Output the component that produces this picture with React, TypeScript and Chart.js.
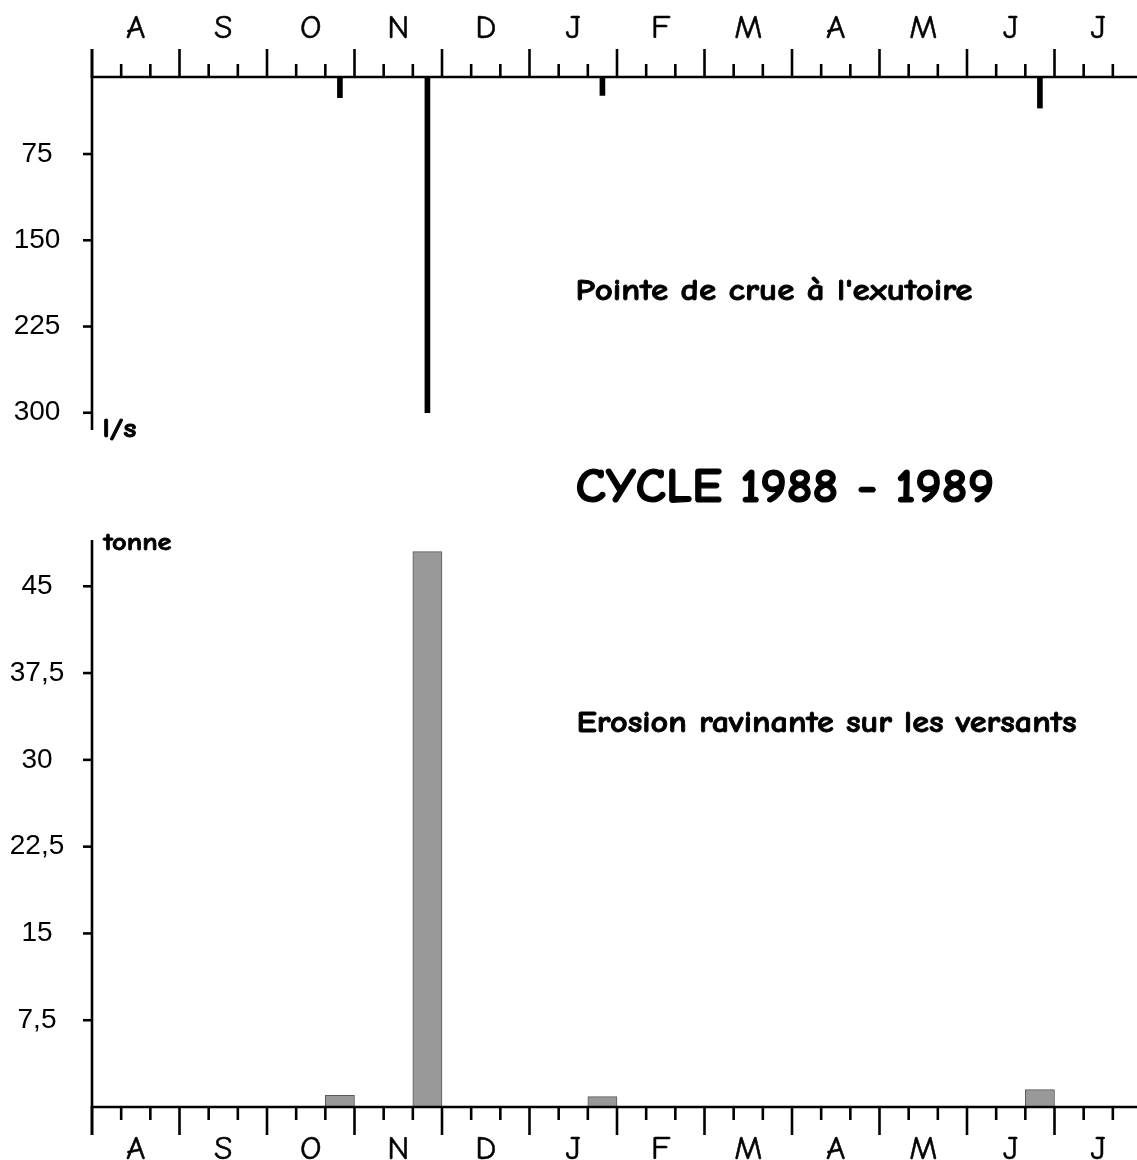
import React, { useEffect, useRef } from "react";
import { Chart, registerables } from "chart.js";

Chart.register(...registerables);

// ---------- data ----------
const monthLetters = ["A", "S", "O", "N", "D", "J", "F", "M", "A", "M", "J", "J"];
const monthNames = ["août", "sept", "oct", "nov", "déc", "janv", "févr", "mars", "avr", "mai", "juin", "juil"];
const decadeLabels = monthNames.flatMap((m) => [`${m} 1`, `${m} 2`, `${m} 3`]);

// Pointe de crue à l'exutoire (l/s), one value per decade (10-day period)
const peakFlow: (number | null)[] = [
  null, null, null, // A
  null, null, null, // S
  null, null, 26, // O
  null, null, 300, // N
  null, null, null, // D
  null, null, 24, // J
  null, null, null, // F
  null, null, null, // M
  null, null, null, // A
  null, null, null, // M
  null, null, 35, // J
  null, null, null, // J
];

// Erosion ravinante sur les versants (tonne), one value per decade
const erosion: (number | null)[] = [
  null, null, null, // A
  null, null, null, // S
  null, null, 1.0, // O
  null, null, 48, // N
  null, null, null, // D
  null, null, 0.9, // J
  null, null, null, // F
  null, null, null, // M
  null, null, null, // A
  null, null, null, // M
  null, null, 1.5, // J
  null, null, null, // J
];

const flowTicks = [75, 150, 225, 300];
const flowTickLabels = ["75", "150", "225", "300"];
const erosionTicks = [7.5, 15, 22.5, 30, 37.5, 45];
const erosionTickLabels = ["7,5", "15", "22,5", "30", "37,5", "45"];

const titleText = "CYCLE 1988 - 1989";
const flowTitle = "Pointe de crue à l'exutoire";
const erosionTitle = "Erosion ravinante sur les versants";
const flowUnit = "l/s";
const erosionUnit = "tonne";

// ---------- styling ----------
const COMIC = '"Comic Sans MS", "Comic Neue", "Open Sans", sans-serif';
const ARIAL = '"Liberation Sans", Arial, sans-serif';
const FLOW_MIN = 8;
const FLOW_MAX = 315;

type TextItem = { text: string; x: number; y: number; size: number; width: number; weight: number };
type PanelCfg = {
  side: "top" | "bottom";
  yTicks: number[];
  yTickLabels: string[];
  labelBaseline: number;
  texts: TextItem[];
};

function axesPlugin(cfg: PanelCfg) {
  return {
    id: "decadeAxes",
    afterDatasetsDraw(chart: any) {
      const { ctx, chartArea: ca } = chart;
      const xs = chart.scales.x;
      const ys = chart.scales.y;
      const n = decadeLabels.length;
      ctx.save();
      ctx.strokeStyle = "#000";
      ctx.fillStyle = "#000";
      ctx.lineWidth = 2.6;
      ctx.lineCap = "butt";
      const seg = (x1: number, y1: number, x2: number, y2: number) => {
        ctx.beginPath();
        ctx.moveTo(x1, y1);
        ctx.lineTo(x2, y2);
        ctx.stroke();
      };
      const top = cfg.side === "top";
      const axisY = top ? ca.top : ca.bottom;
      const dir = top ? -1 : 1;
      const majorLen = 28;
      const minorLen = 13;
      // month axis line
      seg(ca.left - 1.3, axisY, chart.width, axisY);
      // decade / month ticks
      for (let i = 0; i <= n; i++) {
        const px = xs.getPixelForValue(i - 0.5);
        const len = i % 3 === 0 ? majorLen : minorLen;
        seg(px, axisY, px, axisY + dir * len);
      }
      // month letters
      ctx.font = `32px ${COMIC}`;
      ctx.textAlign = "center";
      ctx.textBaseline = "alphabetic";
      ctx.lineWidth = 0.5;
      monthLetters.forEach((m, k) => {
        const px = xs.getPixelForValue(k * 3 + 1);
        ctx.save();
        ctx.translate(px, cfg.labelBaseline);
        ctx.scale(1.05, 1);
        ctx.fillText(m, 0, 0);
        ctx.strokeText(m, 0, 0);
        ctx.restore();
      });
      ctx.lineWidth = 2.6;
      // value axis
      const yTop = top ? axisY - majorLen : ca.top;
      const yBot = top ? ca.bottom : axisY + majorLen;
      seg(ca.left, yTop, ca.left, yBot);
      ctx.font = `28px ${ARIAL}`;
      ctx.textBaseline = "middle";
      cfg.yTicks.forEach((v, k) => {
        const py = ys.getPixelForValue(v);
        seg(ca.left - 9, py, ca.left, py);
        ctx.fillText(cfg.yTickLabels[k], ca.left - 55, py);
      });
      // annotations (bold, stretched to the reference width)
      ctx.textAlign = "left";
      ctx.textBaseline = "alphabetic";
      cfg.texts.forEach((t) => {
        ctx.font = `bold ${t.size}px ${COMIC}`;
        const w = ctx.measureText(t.text).width + t.weight;
        const sx = t.width / w;
        ctx.save();
        ctx.translate(t.x + t.weight / 2, t.y);
        ctx.scale(sx, 1);
        ctx.lineWidth = t.weight;
        ctx.lineJoin = "round";
        ctx.fillText(t.text, 0, 0);
        ctx.strokeText(t.text, 0, 0);
        ctx.restore();
      });
      ctx.restore();
    },
  };
}

function useChart(ref: React.RefObject<HTMLCanvasElement | null>, make: (c: HTMLCanvasElement) => Chart) {
  useEffect(() => {
    if (!ref.current) return;
    const chart = make(ref.current);
    return () => chart.destroy();
  }, []);
}

export default function App() {
  const topRef = useRef<HTMLCanvasElement | null>(null);
  const botRef = useRef<HTMLCanvasElement | null>(null);

  useChart(topRef, (c) =>
    new Chart(c, {
      type: "bar",
      data: {
        labels: decadeLabels,
        datasets: [
          {
            data: peakFlow as any,
            backgroundColor: "#000",
            borderWidth: 0,
            barThickness: 5,
            base: FLOW_MIN,
          } as any,
        ],
      },
      options: {
        animation: false,
        responsive: false,
        layout: { padding: { left: 92, right: 8, top: 77, bottom: 40 } },
        plugins: { legend: { display: false }, tooltip: { enabled: false } },
        scales: {
          x: { type: "category", display: false, offset: true },
          y: { display: false, reverse: true, min: FLOW_MIN, max: FLOW_MAX },
        },
      },
      plugins: [
        axesPlugin({
          side: "top",
          yTicks: flowTicks,
          yTickLabels: flowTickLabels,
          labelBaseline: 38,
          texts: [
            { text: flowUnit, x: 102, y: 437, size: 26, width: 35, weight: 0.8 },
            { text: flowTitle, x: 575, y: 300, size: 30, width: 398, weight: 0.8 },
          ],
        }),
      ],
    })
  );

  useChart(botRef, (c) =>
    new Chart(c, {
      type: "bar",
      data: {
        labels: decadeLabels,
        datasets: [
          {
            data: erosion as any,
            backgroundColor: "#999999",
            borderColor: "#5a5a5a",
            borderWidth: 1,
            barPercentage: 1,
            categoryPercentage: 1,
          },
        ],
      },
      options: {
        animation: false,
        responsive: false,
        layout: { padding: { left: 92, right: 8, top: 100, bottom: 53 } },
        plugins: { legend: { display: false }, tooltip: { enabled: false } },
        scales: {
          x: { type: "category", display: false, offset: true },
          y: { display: false, min: 0, max: 49 },
        },
      },
      plugins: [
        axesPlugin({
          side: "bottom",
          yTicks: erosionTicks,
          yTickLabels: erosionTickLabels,
          labelBaseline: 1159 - 440,
          texts: [
            { text: titleText, x: 575, y: 502 - 440, size: 49, width: 420, weight: 1.2 },
            { text: erosionUnit, x: 103, y: 550 - 440, size: 25, width: 69, weight: 0.8 },
            { text: erosionTitle, x: 576, y: 732 - 440, size: 30, width: 501, weight: 0.8 },
          ],
        }),
      ],
    })
  );

  return (
    <div
      style={{
        position: "absolute",
        left: 0,
        top: 0,
        width: 1137,
        height: 1160,
        overflow: "hidden",
        background: "#fff",
      }}
    >
      <canvas
        ref={topRef}
        width={1150}
        height={470}
        style={{ position: "absolute", left: 0, top: 0, width: 1150, height: 470 }}
      />
      <canvas
        ref={botRef}
        width={1150}
        height={720}
        style={{ position: "absolute", left: 0, top: 440, width: 1150, height: 720 }}
      />
    </div>
  );
}
